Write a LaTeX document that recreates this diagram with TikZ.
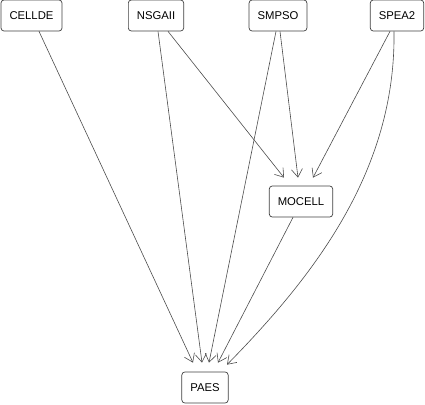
\documentclass[tikz,border=0pt]{standalone}
\usepackage{fontspec}
\setmainfont{Liberation Sans}
\usetikzlibrary{arrows.meta}
\begin{document}
\begin{tikzpicture}[x=1pt,y=-1pt,
  box/.style={draw=black!75, line width=0.7pt, rounded corners=3pt, fill=white,
    minimum height=31pt, inner xsep=8.5pt, inner ysep=0pt, font=\fontsize{11.3pt}{13pt}\selectfont},
  edge/.style={draw=black!70, line width=0.6pt, -{Straight Barb[length=8pt,width=11pt,line width=0.6pt]}}]
\useasboundingbox (0,0) rectangle (425,404);
\node[box] (CELLDE) at (31.5,15.5) {CELLDE};
\node[box] (NSGAII) at (156,15.5) {NSGAII};
\node[box] (SMPSO) at (278,15.5) {SMPSO};
\node[box] (SPEA2) at (397,15.5) {SPEA2};
\node[box] (MOCELL) at (301,201.5) {MOCELL};
\node[box] (PAES) at (205,387.5) {PAES};
\draw[edge] ([xshift=7.5pt]CELLDE.south) -- ([xshift=-12pt,yshift=9pt]PAES.north);
\draw[edge] ([xshift=2pt]NSGAII.south) -- ([xshift=-3pt,yshift=9pt]PAES.north);
\draw[edge] ([xshift=12pt]NSGAII.south) -- ([xshift=-17pt,yshift=8pt]MOCELL.north);
\draw[edge] ([xshift=2pt]SMPSO.south) -- ([xshift=-3pt,yshift=8pt]MOCELL.north);
\draw[edge] ([xshift=-2pt]SMPSO.south) -- ([xshift=4pt,yshift=9pt]PAES.north);
\draw[edge] ([xshift=-7pt]SPEA2.south) -- ([xshift=12pt,yshift=8pt]MOCELL.north);
\draw[edge] ([xshift=-3pt]SPEA2.south) .. controls (396,170) and (315,275) .. ([xshift=22pt,yshift=7pt]PAES.north);
\draw[edge] ([xshift=-8pt]MOCELL.south) -- ([xshift=13pt,yshift=9pt]PAES.north);
\end{tikzpicture}
\end{document}
